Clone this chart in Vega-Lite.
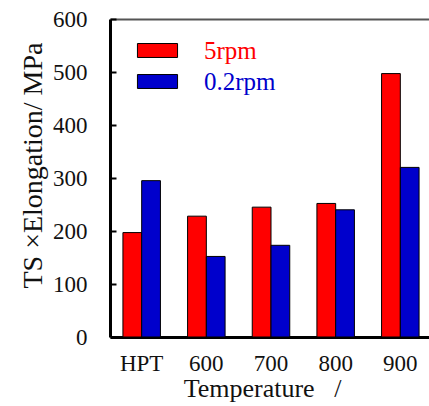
{
  "$schema": "https://vega.github.io/schema/vega-lite/v6.json",
  "autosize": "none",
  "width": 322,
  "height": 318,
  "padding": {"left": 110, "top": 19, "right": 0, "bottom": 69},
  "background": "white",
  "config": {"font": "Times New Roman, Liberation Serif, serif", "view": {"stroke": null}},
  "data": {"values": [
    {"temp": "HPT", "speed": "5rpm", "value": 197},
    {"temp": "HPT", "speed": "0.2rpm", "value": 295},
    {"temp": "600", "speed": "5rpm", "value": 228},
    {"temp": "600", "speed": "0.2rpm", "value": 152},
    {"temp": "700", "speed": "5rpm", "value": 245},
    {"temp": "700", "speed": "0.2rpm", "value": 173},
    {"temp": "800", "speed": "5rpm", "value": 252},
    {"temp": "800", "speed": "0.2rpm", "value": 240},
    {"temp": "900", "speed": "5rpm", "value": 497},
    {"temp": "900", "speed": "0.2rpm", "value": 320}
  ]},
  "layer": [
    {
      "mark": {"type": "bar", "stroke": "black", "strokeWidth": 1},
      "encoding": {
        "x": {"field": "temp", "type": "nominal", "sort": ["HPT", "600", "700", "800", "900"],
          "scale": {"paddingInner": 0.42, "paddingOuter": 0.2},
          "axis": {"orient": "bottom", "title": "Temperature\u00a0\u00a0\u00a0/", "labelAngle": 0, "labelFontSize": 23,
            "labelFont": "Times New Roman, Liberation Serif, serif", "titleFont": "Times New Roman, Liberation Serif, serif",
            "titleFontSize": 26, "titleFontWeight": "normal", "domainColor": "black", "domainWidth": 3,
            "ticks": false, "labelPadding": 15, "labelColor": "#111", "titleColor": "#111",
            "titleX": 152, "titleY": 38, "titleBaseline": "top"}},
        "xOffset": {"field": "speed", "type": "nominal", "sort": ["5rpm", "0.2rpm"]},
        "y": {"field": "value", "type": "quantitative", "scale": {"domain": [0, 600]},
          "axis": {"values": [0, 100, 200, 300, 400, 500, 600], "grid": false, "tickSize": -6, "tickWidth": 2,
            "tickColor": "black", "domainColor": "black", "domainWidth": 3, "labelFontSize": 23,
            "labelFont": "Times New Roman, Liberation Serif, serif", "titleFont": "Times New Roman, Liberation Serif, serif",
            "labelPadding": 29, "labelColor": "#111", "title": "TS ×Elongation/ MPa", "titleFontSize": 28,
            "titleFontWeight": "normal", "titleColor": "#111", "titleX": -63, "titleY": 146}},
        "color": {"field": "speed", "type": "nominal",
          "scale": {"domain": ["5rpm", "0.2rpm"], "range": ["#ff0000", "#0000cc"]},
          "legend": {"orient": "none", "legendX": 30, "legendY": 14, "title": null,
            "symbolType": "M-1.18,-0.41L1.18,-0.41L1.18,0.41L-1.18,0.41Z", "symbolSize": 1156,
            "symbolStrokeColor": "black", "symbolStrokeWidth": 1, "symbolOpacity": 1,
            "labelFont": "Times New Roman, Liberation Serif, serif",
            "labelFontSize": 25, "labelOffset": 29, "rowPadding": 0,
            "labelColor": {"expr": "datum.value == '5rpm' ? '#ff0000' : '#0000cc'"}}}
      }
    },
    {
      "mark": {"type": "bar", "opacity": 0},
      "encoding": {
        "x": {"field": "temp", "type": "nominal", "sort": ["HPT", "600", "700", "800", "900"],
          "axis": {"orient": "top", "labels": false, "ticks": false, "title": null, "domainColor": "#555", "domainWidth": 2}},
        "xOffset": {"field": "speed", "type": "nominal", "sort": ["5rpm", "0.2rpm"]},
        "y": {"field": "value", "type": "quantitative"}
      }
    }
  ],
  "resolve": {"axis": {"x": "independent"}}
}
